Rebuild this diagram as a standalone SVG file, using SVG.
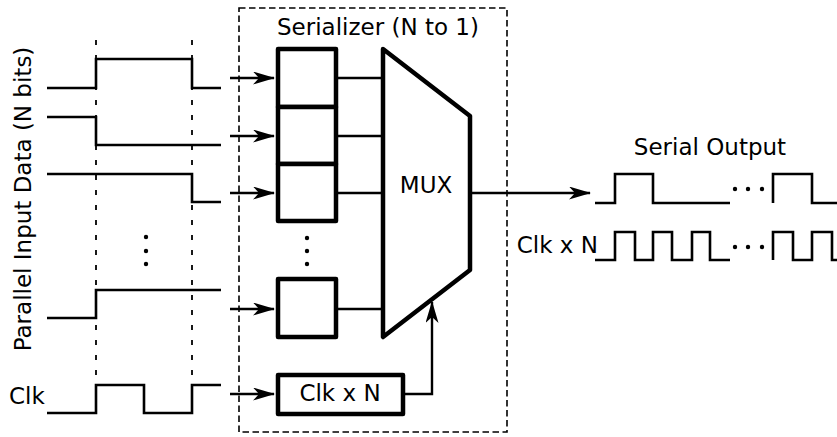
<svg xmlns="http://www.w3.org/2000/svg" width="837" height="437" viewBox="0 0 837 437">
<style>
text{font-family:"DejaVu Sans","Liberation Sans",sans-serif;font-size:23px;fill:#000}
.wave{fill:none;stroke:#000;stroke-width:2.6;stroke-linejoin:miter}
.dash{fill:none;stroke:#000;stroke-width:1.6;stroke-dasharray:6.5,3.5}
.guide{fill:none;stroke:#000;stroke-width:1.8;stroke-dasharray:5,10}
.reg{fill:#fff;stroke:#000;stroke-width:4.5;stroke-linejoin:round}
.wire{fill:none;stroke:#000;stroke-width:2.4}
.arr{fill:none;stroke:#000;stroke-width:2.4;marker-end:url(#ah)}
.dot{fill:#000}
</style>
<defs>
<marker id="ah" viewBox="0 0 22 13" refX="21" refY="6.5" markerWidth="22" markerHeight="13" markerUnits="userSpaceOnUse" orient="auto">
<path d="M0,0 L22,6.5 L0,13 L6,6.5 Z" fill="#000"/>
</marker>
</defs>
<rect id="serializer-frame" class="dash" x="239" y="8" width="268" height="424"/>
<g id="timing-guides">
<line class="guide" x1="96" y1="40" x2="96" y2="415"/>
<line class="guide" x1="192" y1="40" x2="192" y2="415"/>
</g>
<g id="input-label">
<text transform="translate(31,199) rotate(-90)" text-anchor="middle">Parallel Input Data (N bits)</text>
</g>
<g id="input-waves">
<path class="wave" d="M47,88 H96 V59 H192 V88 H221"/>
<path class="wave" d="M47,117 H96 V145 H221"/>
<path class="wave" d="M47,174 H192 V202 H221"/>
<path class="wave" d="M47,318 H96 V290 H221"/>
<circle class="dot" cx="146" cy="237" r="2.2"/>
<circle class="dot" cx="146" cy="251" r="2.2"/>
<circle class="dot" cx="146" cy="264" r="2.2"/>
</g>
<g id="clk-input">
<text x="9" y="404">Clk</text>
<path class="wave" d="M47,413 H96 V385 H144 V413 H192 V385 H221"/>
</g>
<text x="378" y="35" text-anchor="middle">Serializer (N to 1)</text>
<g id="reg1"><rect class="reg" x="278" y="49" width="58" height="58"/></g>
<g id="reg2"><rect class="reg" x="278" y="107" width="58" height="57"/></g>
<g id="reg3"><rect class="reg" x="278" y="164" width="58" height="57"/></g>
<g id="reg-dots">
<circle class="dot" cx="307" cy="238" r="2.2"/>
<circle class="dot" cx="307" cy="251" r="2.2"/>
<circle class="dot" cx="307" cy="264" r="2.2"/>
</g>
<g id="regN"><rect class="reg" x="278" y="279" width="58" height="58"/></g>
<g id="clkxn-block">
<rect class="reg" x="278" y="375" width="125" height="39"/>
<text x="340" y="401" text-anchor="middle">Clk x N</text>
</g>
<g id="mux">
<polygon points="383,49 470,116 470,270 383,337" fill="#fff" stroke="#000" stroke-width="4.5" stroke-linejoin="round"/>
<text x="426" y="193" text-anchor="middle">MUX</text>
</g>
<g id="connectors">
<line class="arr" x1="230" y1="78" x2="274" y2="78"/>
<line class="arr" x1="230" y1="136" x2="274" y2="136"/>
<line class="arr" x1="230" y1="193" x2="274" y2="193"/>
<line class="arr" x1="230" y1="309" x2="274" y2="309"/>
<line class="arr" x1="230" y1="394" x2="274" y2="394"/>
<line class="wire" x1="336" y1="78" x2="383" y2="78"/>
<line class="wire" x1="336" y1="136" x2="383" y2="136"/>
<line class="wire" x1="336" y1="193" x2="383" y2="193"/>
<line class="wire" x1="336" y1="309" x2="383" y2="309"/>
<path class="arr" d="M403,394 H432 V302"/>
<line class="arr" x1="470" y1="193" x2="590" y2="193"/>
</g>
<g id="serial-output">
<text x="710" y="155" text-anchor="middle">Serial Output</text>
<path class="wave" d="M595,203 H615 V174 H653 V203 H730"/>
<path class="wave" d="M773,203 V174 H812 V203 H837"/>
<circle class="dot" cx="735" cy="189" r="2.2"/>
<circle class="dot" cx="748" cy="189" r="2.2"/>
<circle class="dot" cx="762" cy="189" r="2.2"/>
</g>
<g id="clkxn-output">
<text x="598" y="253" text-anchor="end">Clk x N</text>
<path class="wave" d="M595,260 H615 V232 H635 V260 H653 V232 H672 V260 H692 V232 H710 V260 H730"/>
<path class="wave" d="M773,260 V232 H793 V260 H812 V232 H832 V260 H837"/>
<circle class="dot" cx="735" cy="247" r="2.2"/>
<circle class="dot" cx="748" cy="247" r="2.2"/>
<circle class="dot" cx="762" cy="247" r="2.2"/>
</g>
</svg>
